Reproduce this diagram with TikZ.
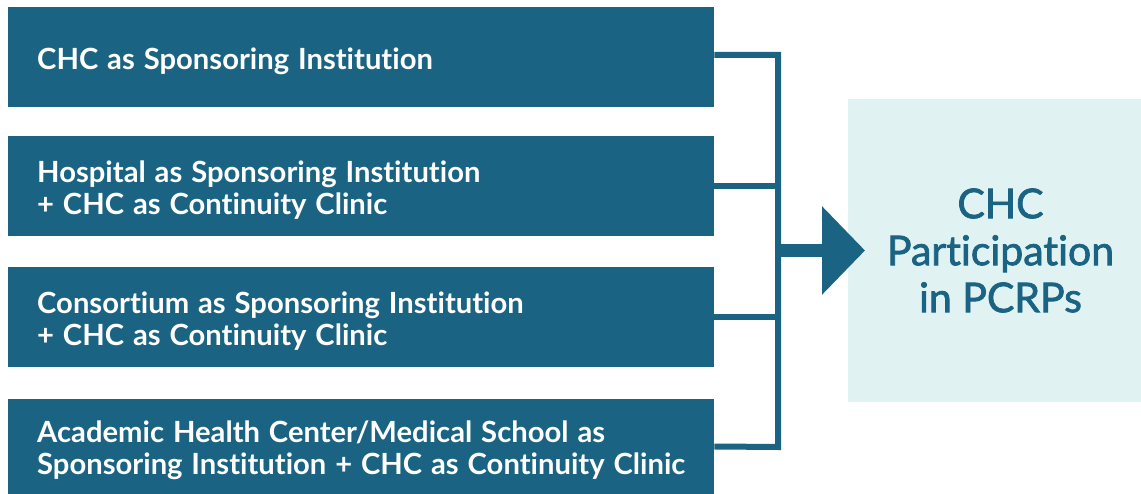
\documentclass[tikz,border=0pt]{standalone}
\usepackage{fontspec}
\setmainfont{Lato}[Ligatures=NoCommon, WordSpace=1.25]
\newfontfamily\midfont{Lato}[Ligatures=NoCommon, FakeBold=1.8]
\usetikzlibrary{arrows.meta}
\definecolor{teal1}{HTML}{1A6382}
\definecolor{pale}{HTML}{E0F2F2}
\tikzset{
  optbox/.style={fill=teal1, anchor=west, minimum width=706pt, minimum height=100pt, inner sep=0pt},
  opttext/.style={text=white, anchor=west, inner xsep=29pt, inner ysep=0pt, align=left,
    font=\bfseries\fontsize{29.2}{31.5}\selectfont},
  bus/.style={draw=teal1, line width=6pt},
}
\begin{document}
\begin{tikzpicture}[x=1pt,y=-1pt]
\useasboundingbox (0,0) rectangle (1141,494);
\node[optbox] (b1) at (8,57) {};
\node[optbox] (b2) at (8,186) {};
\node[optbox] (b3) at (8,317) {};
\node[optbox, minimum height=95pt] (b4) at (8,446.5) {};
\node[opttext] (t1) at ([yshift=-4pt]b1.west) {CHC as Sponsoring Institution};
\node[opttext] (t2) at ([yshift=-4pt]b2.west) {Hospital as Sponsoring Institution\\+ CHC as Continuity Clinic};
\node[opttext] (t3) at ([yshift=-4pt]b3.west) {Consortium as Sponsoring Institution\\+ CHC as Continuity Clinic};
\node[opttext] (t4) at ([yshift=-4pt]b4.west) {Academic Health Center/Medical School as\\Sponsoring Institution + CHC as Continuity Clinic};
\coordinate (bt) at (778,55);
\coordinate (bb) at (778,447);
\coordinate (busmid) at (778,250.5);
\draw[bus, line join=miter] ([yshift=2pt]b1.east) -- (bt) -- (bb) -- (b4.east);
\draw[bus] (b2.east) -- (b2.east -| bt);
\draw[bus] (b3.east) -- (b3.east -| bt);
\node[fill=pale, minimum width=293pt, minimum height=303pt, inner sep=0pt] (res) at (994.5,250.5) {};
\node[text=teal1, align=center, font=\midfont\fontsize{41}{47}\selectfont] (restext) at ([xshift=6pt]res.center) {CHC\\Participation\\in PCRPs};
\coordinate (tip) at (865,250.5);
\draw[draw=teal1, line width=13pt, -{Triangle[length=43pt, width=86pt, fill=teal1]}] (busmid) -- (tip);
\end{tikzpicture}
\end{document}
